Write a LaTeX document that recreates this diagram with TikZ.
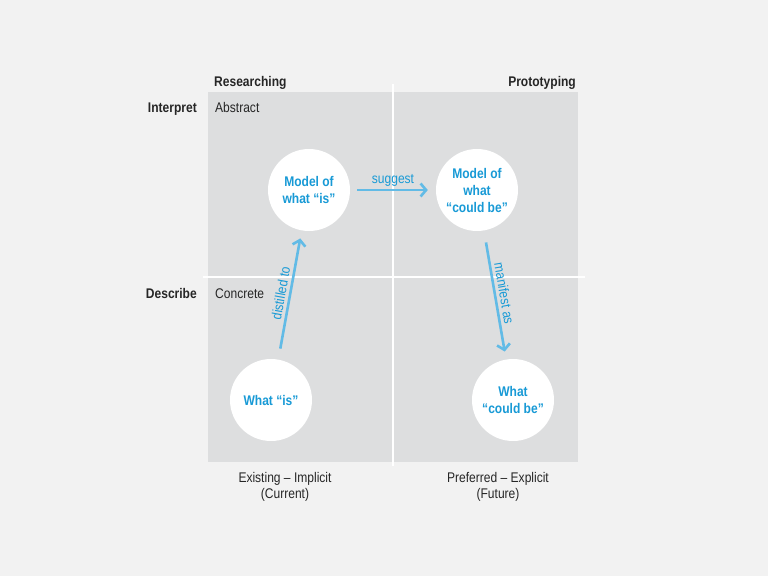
\documentclass[tikz,border=0pt]{standalone}
\usepackage{fontspec}
\setmainfont{Liberation Sans}[FakeStretch=0.86,Ligatures={TeX,NoCommon}]
\usetikzlibrary{arrows.meta}
\definecolor{pagegrey}{RGB}{242,242,242}
\definecolor{fieldgrey}{RGB}{221,222,223}
\definecolor{textblue}{RGB}{24,154,214}
\definecolor{arrowblue}{RGB}{98,187,230}
\definecolor{inkgrey}{RGB}{38,38,38}

\begin{document}
\begin{tikzpicture}[x=1pt,y=-1pt,font=\fontsize{14}{16}\selectfont]
	% `state' is used for the white circles.
	% `flow' is used for the blue arrows between them.
	\tikzstyle{state} = [circle,fill=white,minimum size=82pt,inner sep=0pt,align=center,text=textblue,font=\bfseries\fontsize{14}{17}\selectfont]
	\tikzstyle{flow} = [draw=arrowblue,line width=2.6pt,-{Straight Barb[length=5.5pt,width=13pt]}]
	\tikzstyle{verb} = [text=textblue,inner sep=3pt]
	\tikzstyle{heading} = [text=inkgrey,font=\bfseries\fontsize{14}{16}\selectfont,inner sep=0pt]
	\tikzstyle{pole} = [text=inkgrey,inner sep=0pt]
	\tikzstyle{caption} = [text=inkgrey,align=center,inner sep=0pt,font=\fontsize{14}{16}\selectfont]
	\tikzstyle{divider} = [draw=white,line width=1.2pt]
	%
	\useasboundingbox[fill=pagegrey] (0,0) rectangle (768,576);
	% Draw background field.
	\fill[fieldgrey] (208,92) coordinate (nw) rectangle (578,462) coordinate (se);
	\coordinate (top) at (393,84);
	\coordinate (bottom) at (393,466);
	\coordinate (left) at (203,277);
	\coordinate (right) at (585,277);
	\draw[divider] (top) -- (bottom)  (left) -- (right);
	% Headings round the field.
	\node[heading,anchor=base west] (researching) at (214,86) {Researching};
	\node[heading,anchor=base east] (prototyping) at (576,86) {Prototyping};
	\node[heading,anchor=base east] (interpret) at (197,112) {Interpret};
	\node[heading,anchor=base east] (describe) at (197,298) {Describe};
	\node[pole,anchor=base west] (abstract) at (215,112) {Abstract};
	\node[pole,anchor=base west] (concrete) at (215,298) {Concrete};
	\node[caption,anchor=north] (existing) at (285,472) {Existing -- Implicit\\(Current)};
	\node[caption,anchor=north] (preferred) at (498,472) {Preferred -- Explicit\\(Future)};
	% Circles.
	\node[state] (modelis) at (309,190) {Model of\\what “is”};
	\node[state] (modelcould) at (477,190) {Model of\\what\\“could be”};
	\node[state] (is) at (271,400) {What “is”};
	\node[state] (could) at (513,400) {What\\“could be”};
	% Draw arrows.
	\draw[flow,shorten <=11pt,shorten >=8pt] (is) -- node[verb,sloped,above] (distilled) {distilled to} (modelis);
	\draw[flow,shorten <=7pt,shorten >=8pt] (modelis) -- node[verb,above,yshift=-1pt] (suggest) {suggest} (modelcould);
	\draw[flow,shorten <=12pt,shorten >=8pt] (modelcould) -- node[verb,sloped,above] (manifest) {manifest as} (could);
\end{tikzpicture}
\end{document}
